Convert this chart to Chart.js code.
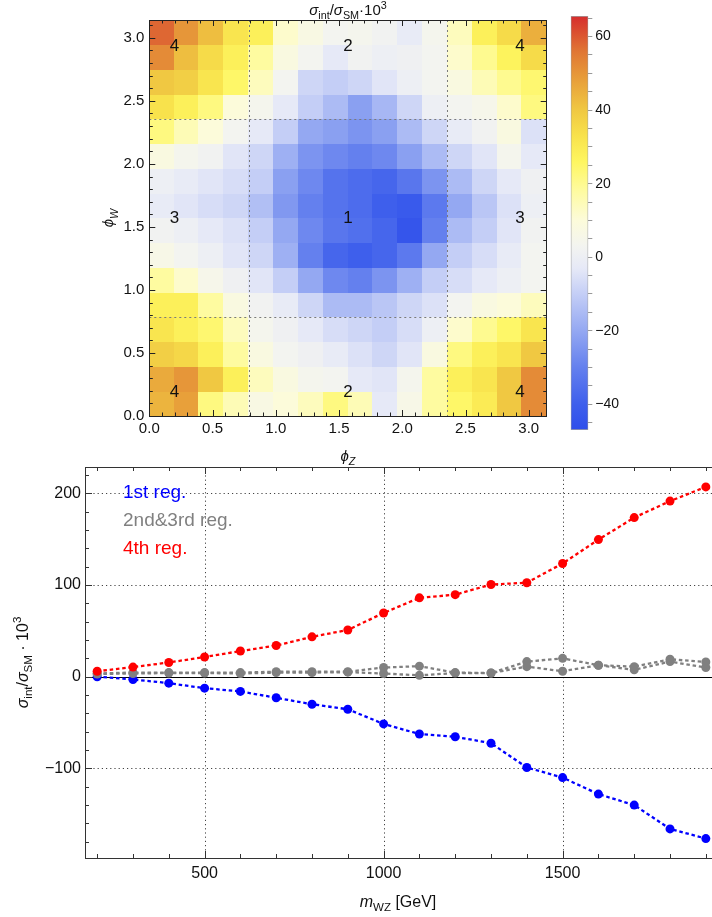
<!DOCTYPE html>
<html>
<head>
<meta charset="utf-8">
<script src="https://cdn.jsdelivr.net/npm/chart.js@4.4.1/dist/chart.umd.min.js"></script>
<style>
  html, body { margin: 0; padding: 0; background: #fff; width: 712px; height: 917px; overflow: hidden; }
  canvas { position: absolute; }
</style>
</head>
<body>
<canvas id="heat" width="712" height="470" style="left:0;top:0"></canvas>
<canvas id="cbar" width="100" height="450" style="left:560px;top:0"></canvas>
<canvas id="lines" width="760" height="477" style="left:0;top:440px"></canvas>
<script>
const PI = Math.PI;

// ---- density plot: 16 x 16 cells over [0,pi] x [0,pi], rows from phi_W = 0 upwards
const gridSize = 16;
const heatRows = [
  [44, 48, 22, 15, 7, 10, 14, 22, 15, -3, 6, 18, 25, 30, 40, 52],
  [46, 50, 40, 28, 14, 8, 4, 3, -3, -4, 4, 18, 28, 32, 40, 52],
  [38, 36, 28, 18, 8, 3, 1, -2, -5, -8, -4, 8, 22, 28, 32, 40],
  [32, 28, 24, 14, 4, 1, -3, -6, -8, -10, -6, 0, 12, 20, 25, 32],
  [28, 28, 18, 8, 2, -2, -8, -15, -15, -12, -8, -5, 3, 8, 10, 14],
  [18, 12, 5, 1, -4, -10, -20, -28, -30, -25, -18, -10, -6, -3, 0, 3],
  [6, 3, 0, -4, -8, -18, -30, -38, -40, -38, -32, -20, -10, -6, -2, 3],
  [2, 0, -3, -5, -10, -20, -28, -33, -35, -38, -44, -30, -15, -10, -4, 2],
  [-2, -4, -6, -8, -14, -24, -30, -34, -36, -40, -42, -32, -20, -12, -5, 0],
  [0, -2, -4, -6, -10, -22, -28, -34, -36, -38, -33, -25, -15, -8, -3, 1],
  [8, 4, 2, -4, -8, -18, -25, -28, -30, -28, -22, -15, -8, -4, 4, -3],
  [22, 15, 10, 3, -3, -10, -20, -22, -25, -22, -15, -8, -2, 2, 8, -5],
  [33, 28, 22, 10, 4, -3, -10, -15, -22, -16, -8, 0, 3, 5, 12, 22],
  [40, 38, 32, 25, 14, 3, -8, -10, -8, -4, 0, 3, 8, 15, 20, 24],
  [52, 42, 35, 28, 18, 8, 3, -3, 2, 0, 1, 3, 12, 20, 27, 35],
  [58, 50, 42, 32, 28, 12, 7, 3, 4, 2, -2, 4, 14, 28, 35, 45]
];
const colorMin = -47;
const colorMax = 65.6;
const colorTickLabels = [-40, -20, 0, 20, 40, 60];
const phiTicks = [0, 0.5, 1, 1.5, 2, 2.5, 3];
const regionLines = [PI / 4, 3 * PI / 4];
const regionText = ["4", "2", "4", "3", "1", "3", "4", "2", "4"];
const regionPhiZ = [0.2, 1.57, 2.93, 0.2, 1.57, 2.93, 0.2, 1.57, 2.93];
const regionPhiW = [2.93, 2.93, 2.93, 1.57, 1.57, 1.57, 0.19, 0.19, 0.19];

// ---- line plot
const mWZ = [200, 300, 400, 500, 600, 700, 800, 900, 1000, 1100, 1200, 1300, 1400, 1500, 1600, 1700, 1800, 1900];
const reg1st = [0, -3, -7, -12.5, -16, -23, -30, -35.5, -51.5, -62.5, -65.5, -72.5, -99, -110, -128, -140, -166, -176.5];
const reg2nd = [3.5, 4.5, 4.5, 4.5, 4.5, 5.5, 5.5, 5.5, 10, 11.5, 4.5, 4, 16.5, 20, 12.5, 11, 19, 16];
const reg3rd = [3, 3.5, 4, 4, 3.5, 4.5, 4.5, 5, 3.5, 1.5, 4, 4, 11, 6, 12.5, 7.5, 16.5, 10];
const reg4th = [6, 10.5, 15.5, 21.5, 28, 34, 43.5, 51, 69.5, 86, 89.5, 100.5, 102.5, 123.5, 149.5, 173.5, 191.5, 207];
const mTicks = [500, 1000, 1500];
const yTicks = [-100, 0, 100, 200];

const FONT = '"Liberation Sans", Arial, Helvetica, sans-serif';
Chart.defaults.font.family = FONT;

// temperature-like colour map (value, rgb)
const palette = [
  [-47, [46, 78, 235]], [-40, [62, 95, 236]], [-30, [100, 128, 238]], [-20, [148, 168, 242]],
  [-10, [196, 206, 246]], [-3, [230, 233, 247]], [3, [243, 244, 240]], [10, [252, 251, 218]],
  [18, [254, 251, 160]], [26, [254, 246, 96]], [33, [248, 226, 76]], [40, [240, 200, 66]],
  [48, [232, 160, 58]], [56, [224, 118, 52]], [65.6, [214, 45, 45]]
];
function rgb(c) { return "rgb(" + c.map(Math.round).join(",") + ")"; }
function colorFor(v) {
  if (v <= palette[0][0]) return rgb(palette[0][1]);
  for (let k = 1; k < palette.length; k++) {
    if (v <= palette[k][0]) {
      const [a, ca] = palette[k - 1], [b, cb] = palette[k];
      const t = (v - a) / (b - a);
      return rgb(ca.map((c, n) => c + (cb[n] - c) * t));
    }
  }
  return rgb(palette[palette.length - 1][1]);
}
function minus(v) { return v < 0 ? "\u2212" + Math.abs(v) : String(v); }

// text with italic / sub / sup pieces, y is the baseline
function richText(ctx, parts, x, y, size, align) {
  const fontOf = k => {
    const small = k.includes("sub") || k.includes("sup");
    return (k.startsWith("i") ? "italic " : "") + (small ? size * 0.72 : size) + "px " + FONT;
  };
  let w = 0;
  for (const [t, k] of parts) { ctx.font = fontOf(k); w += ctx.measureText(t).width; }
  let cx = align === "center" ? x - w / 2 : x;
  ctx.textAlign = "left";
  ctx.textBaseline = "alphabetic";
  for (const [t, k] of parts) {
    ctx.font = fontOf(k);
    let dy = 0;
    if (k.includes("sub")) dy = size * 0.28;
    if (k.includes("sup")) dy = -size * 0.42;
    ctx.fillText(t, cx, y + dy);
    cx += ctx.measureText(t).width;
  }
}

function crisp(p) { return Math.round(p) + 0.5; }

// -------------------------
// DENSITY PLOT
// -------------------------
const heatPlugin = {
  id: "heatCells",
  beforeDatasetsDraw(chart) {
    const { ctx, chartArea: a, scales: { x, y } } = chart;
    const step = PI / gridSize;
    ctx.save();
    ctx.beginPath();
    ctx.rect(a.left, a.top, a.right - a.left, a.bottom - a.top);
    ctx.clip();
    heatRows.forEach((row, j) => {
      row.forEach((v, i) => {
        const x0 = Math.floor(x.getPixelForValue(i * step));
        const x1 = Math.ceil(x.getPixelForValue((i + 1) * step));
        const y0 = Math.floor(y.getPixelForValue((j + 1) * step));
        const y1 = Math.ceil(y.getPixelForValue(j * step));
        ctx.fillStyle = colorFor(v);
        ctx.fillRect(x0, y0, x1 - x0, y1 - y0);
      });
    });
    ctx.restore();

    // region borders
    ctx.save();
    ctx.strokeStyle = "#7a7a7a";
    ctx.lineWidth = 1;
    ctx.setLineDash([2, 3]);
    regionLines.forEach(v => {
      const px = crisp(x.getPixelForValue(v));
      const py = crisp(y.getPixelForValue(v));
      ctx.beginPath(); ctx.moveTo(px, a.top); ctx.lineTo(px, a.bottom); ctx.stroke();
      ctx.beginPath(); ctx.moveTo(a.left, py); ctx.lineTo(a.right, py); ctx.stroke();
    });
    ctx.setLineDash([]);

    // region numbers
    ctx.fillStyle = "#111";
    ctx.font = "17px " + FONT;
    ctx.textAlign = "center";
    ctx.textBaseline = "middle";
    regionText.forEach((t, k) => {
      ctx.fillText(t, x.getPixelForValue(regionPhiZ[k]), y.getPixelForValue(regionPhiW[k]));
    });

    // frame with inward ticks
    ctx.strokeStyle = "#222";
    ctx.strokeRect(crisp(a.left), crisp(a.top), Math.round(a.right - a.left), Math.round(a.bottom - a.top));
    ctx.beginPath();
    for (let k = 0; k <= 31; k++) {
      const v = k / 10;
      const len = k % 5 === 0 ? 6 : 3.5;
      const px = crisp(x.getPixelForValue(v));
      const py = crisp(y.getPixelForValue(v));
      ctx.moveTo(px, a.bottom); ctx.lineTo(px, a.bottom - len);
      ctx.moveTo(px, a.top); ctx.lineTo(px, a.top + len);
      ctx.moveTo(a.left, py); ctx.lineTo(a.left + len, py);
      ctx.moveTo(a.right, py); ctx.lineTo(a.right - len, py);
    }
    ctx.stroke();
    ctx.restore();
  },
  afterDraw(chart) {
    const { ctx, chartArea: a } = chart;
    const cx = (a.left + a.right) / 2;
    ctx.save();
    ctx.fillStyle = "#111";
    richText(ctx, [["\u03C3", "i"], ["int", "sub"], ["/", ""], ["\u03C3", "i"], ["SM", "sub"], ["\u00B710", ""], ["3", "sup"]], cx, a.top - 5, 15, "center");
    richText(ctx, [["\u03D5", "i"], ["Z", "isub"]], cx, a.bottom + 45, 15, "center");
    ctx.translate(a.left - 36, (a.top + a.bottom) / 2);
    ctx.rotate(-PI / 2);
    richText(ctx, [["\u03D5", "i"], ["W", "isub"]], 0, 0, 15, "center");
    ctx.restore();
  }
};

const phiAxis = (fit) => ({
  type: "linear",
  min: 0,
  max: PI,
  afterBuildTicks: s => { s.ticks = phiTicks.map(v => ({ value: v })); },
  afterFit: fit,
  grid: { display: false, drawTicks: false },
  border: { display: false },
  ticks: { callback: v => v.toFixed(1), font: { size: 15 }, color: "#111", maxRotation: 0, autoSkip: false }
});

const heatX = phiAxis(s => { s.height = 54; });
heatX.ticks.padding = 4;
const heatY = phiAxis(s => { s.width = 149.3; });
heatY.ticks.padding = 5;

new Chart(document.getElementById("heat"), {
  type: "scatter",
  data: { datasets: [] },
  options: {
    responsive: false,
    animation: false,
    layout: { padding: { left: 0, top: 20, right: 165.3, bottom: 0 } },
    plugins: { legend: { display: false }, tooltip: { enabled: false } },
    scales: { x: heatX, y: heatY }
  },
  plugins: [heatPlugin]
});

// -------------------------
// COLOUR BAR
// -------------------------
new Chart(document.getElementById("cbar"), {
  type: "bar",
  data: {
    labels: [""],
    datasets: [{
      data: [[colorMin, colorMax]],
      barPercentage: 1,
      categoryPercentage: 1,
      borderColor: "#a0a0a0",
      borderWidth: 1,
      borderSkipped: false,
      backgroundColor: c => {
        const { chart } = c;
        if (!chart.chartArea) return "#ccc";
        const ys = chart.scales.y;
        const g = chart.ctx.createLinearGradient(0, ys.getPixelForValue(colorMin), 0, ys.getPixelForValue(colorMax));
        palette.forEach(([v, col]) => g.addColorStop((v - colorMin) / (colorMax - colorMin), rgb(col)));
        return g;
      }
    }]
  },
  options: {
    responsive: false,
    animation: false,
    layout: { padding: { left: 10.7, top: 16, right: 0, bottom: 20 } },
    plugins: { legend: { display: false }, tooltip: { enabled: false } },
    scales: {
      x: { display: false },
      y: {
        position: "right",
        min: colorMin,
        max: colorMax,
        afterBuildTicks: s => {
          const t = [];
          for (let v = -45; v <= 65; v += 5) t.push({ value: v });
          s.ticks = t;
        },
        afterFit: s => { s.width = 71.7; },
        grid: { drawOnChartArea: false, drawTicks: true, tickLength: 4, tickColor: "#999" },
        border: { display: false },
        ticks: {
          callback: v => colorTickLabels.includes(v) ? minus(v) : "",
          font: { size: 14 },
          color: "#111",
          padding: 3,
          autoSkip: false
        }
      }
    }
  }
});

// -------------------------
// LINE PLOT
// -------------------------
function series(values, color, order) {
  return {
    data: values.map((v, i) => ({ x: mWZ[i], y: v })),
    borderColor: color,
    backgroundColor: color,
    borderWidth: 2.3,
    borderDash: [3.5, 2.8],
    pointRadius: 4.5,
    pointBorderWidth: 0,
    pointBackgroundColor: color,
    tension: 0,
    order: order
  };
}

const linePlugin = {
  id: "frameGrid",
  beforeDatasetsDraw(chart) {
    const { ctx, chartArea: a, scales: { x, y } } = chart;
    ctx.save();
    ctx.strokeStyle = "#444";
    ctx.lineWidth = 1;
    ctx.setLineDash([1.2, 3]);
    yTicks.filter(v => v !== 0).forEach(v => {
      const py = crisp(y.getPixelForValue(v));
      ctx.beginPath(); ctx.moveTo(a.left, py); ctx.lineTo(a.right, py); ctx.stroke();
    });
    mTicks.forEach(v => {
      const px = crisp(x.getPixelForValue(v));
      ctx.beginPath(); ctx.moveTo(px, a.top); ctx.lineTo(px, a.bottom); ctx.stroke();
    });
    ctx.setLineDash([]);
    ctx.strokeStyle = "#000";
    const p0 = crisp(y.getPixelForValue(0));
    ctx.beginPath(); ctx.moveTo(a.left, p0); ctx.lineTo(a.right, p0); ctx.stroke();

    // frame and inward ticks
    ctx.strokeStyle = "#333";
    ctx.strokeRect(crisp(a.left), crisp(a.top), Math.round(a.right - a.left), Math.round(a.bottom - a.top));
    ctx.beginPath();
    for (let v = -180; v <= 220; v += 20) {
      const len = v % 100 === 0 ? 7 : 4;
      const py = crisp(y.getPixelForValue(v));
      ctx.moveTo(a.left, py); ctx.lineTo(a.left + len, py);
    }
    for (let v = 200; v <= 1900; v += 100) {
      const len = v % 500 === 0 ? 7 : 4;
      const px = crisp(x.getPixelForValue(v));
      ctx.moveTo(px, a.bottom); ctx.lineTo(px, a.bottom - len);
      ctx.moveTo(px, a.top); ctx.lineTo(px, a.top + len);
    }
    ctx.stroke();
    ctx.restore();
  },
  afterDraw(chart) {
    const { ctx, chartArea: a } = chart;
    ctx.save();
    ctx.font = "19px " + FONT;
    ctx.textAlign = "left";
    ctx.textBaseline = "middle";
    [["1st reg.", "#0000ff"], ["2nd&3rd reg.", "#808080"], ["4th reg.", "#ff0000"]].forEach(([t, c], k) => {
      ctx.fillStyle = c;
      ctx.fillText(t, a.left + 38, a.top + 26 + k * 28);
    });
    ctx.fillStyle = "#111";
    richText(ctx, [["m", "i"], ["WZ", "sub"], [" [GeV]", ""]], 398, a.bottom + 49, 16, "center");
    ctx.translate(28, (a.top + a.bottom) / 2);
    ctx.rotate(-PI / 2);
    richText(ctx, [["\u03C3", "i"], ["int", "sub"], ["/", ""], ["\u03C3", "i"], ["SM", "sub"], [" \u00B7 10", ""], ["3", "sup"]], 0, 0, 16, "center");
    ctx.restore();
  }
};

new Chart(document.getElementById("lines"), {
  type: "line",
  data: {
    datasets: [
      series(reg1st, "#0000ff", 3),
      series(reg2nd, "#808080", 2),
      series(reg3rd, "#808080", 1),
      series(reg4th, "#ff0000", 0)
    ]
  },
  options: {
    responsive: false,
    animation: false,
    layout: { padding: { left: 0, top: 27, right: 42, bottom: 0 } },
    plugins: { legend: { display: false }, tooltip: { enabled: false } },
    scales: {
      x: {
        type: "linear",
        min: 166,
        max: 1934,
        afterBuildTicks: s => { s.ticks = mTicks.map(v => ({ value: v })); },
        afterFit: s => { s.height = 59; },
        grid: { display: false, drawTicks: false },
        border: { display: false },
        ticks: { callback: v => String(v), font: { size: 16 }, color: "#111", padding: 6, maxRotation: 0, autoSkip: false }
      },
      y: {
        type: "linear",
        min: -197.7,
        max: 228.7,
        afterBuildTicks: s => { s.ticks = yTicks.map(v => ({ value: v })); },
        afterFit: s => { s.width = 85; },
        grid: { display: false, drawTicks: false },
        border: { display: false },
        ticks: { callback: v => minus(v), font: { size: 16 }, color: "#111", padding: 4, autoSkip: false }
      }
    }
  },
  plugins: [linePlugin]
});
</script>
</body>
</html>
